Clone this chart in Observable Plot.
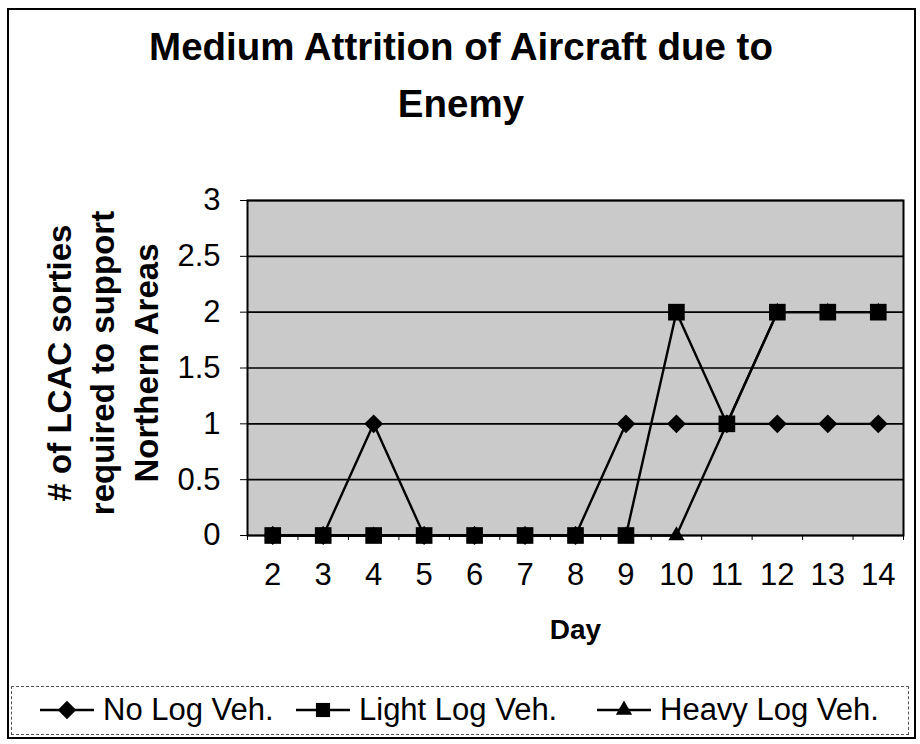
<!DOCTYPE html>
<html>
<head>
<meta charset="utf-8">
<script src="https://cdn.jsdelivr.net/npm/d3@7"></script>
<script src="https://cdn.jsdelivr.net/npm/@observablehq/plot@0.6"></script>
<style>
  html, body { margin: 0; padding: 0; background: #fff; }
  body { width: 920px; height: 744px; position: relative; overflow: hidden; font-family: "Liberation Sans", Arial, sans-serif; color: #000; }
  #frame { position: absolute; left: 7px; top: 8px; width: 909px; height: 731px; border: 2px solid #000; box-sizing: border-box; }
  #title { position: absolute; left: 0; top: 18px; width: 922px; text-align: center; font-size: 38.5px; font-weight: bold; line-height: 57px; }
  #chart { position: absolute; left: 0; top: 140px; }
  #legend { position: absolute; left: 11px; top: 686px; width: 898px; height: 49px; border: 1.5px dashed #555; box-sizing: border-box; }
  .item { position: absolute; top: 0; height: 46px; display: flex; align-items: center; font-size: 31px; white-space: nowrap; }
  .item svg { margin-right: 8px; }
</style>
</head>
<body>
<div id="frame"></div>
<div id="title">Medium Attrition of Aircraft due to<br>Enemy</div>
<div id="chart"></div>
<div id="legend"></div>
<script>
const days = [2, 3, 4, 5, 6, 7, 8, 9, 10, 11, 12, 13, 14];
const noLogVeh = [0, 0, 1, 0, 0, 0, 0, 1, 1, 1, 1, 1, 1];
const lightLogVeh = [0, 0, 0, 0, 0, 0, 0, 0, 2, 1, 2, 2, 2];
const heavyLogVeh = [0, 0, 0, 0, 0, 0, 0, 0, 0, 1, 2, 2, 2];
const seriesNames = ["No Log Veh.", "Light Log Veh.", "Heavy Log Veh."];
const yTicks = [0, 0.5, 1, 1.5, 2, 2.5, 3];
const yLabel = "# of LCAC sorties\nrequired to support\nNorthern Areas";
const xLabel = "Day";

const rows = (vals) => days.map((d, i) => ({day: d, v: vals[i]}));
const noRows = rows(noLogVeh), lightRows = rows(lightLogVeh), heavyRows = rows(heavyLogVeh);
const boundaries = [...days.map(d => d - 0.5), days[days.length - 1] + 0.5];

const diamond = {
  draw(ctx, size) {
    const h = Math.sqrt(size / 2);
    ctx.moveTo(0, -h); ctx.lineTo(h, 0); ctx.lineTo(0, h); ctx.lineTo(-h, 0); ctx.closePath();
  }
};

const lineStyle = {x: "day", y: "v", stroke: "#000", strokeWidth: 2.4};

const chart = Plot.plot({
  width: 920,
  height: 545,
  marginLeft: 247,
  marginRight: 17,
  marginTop: 60,
  marginBottom: 150,
  x: {domain: [1.5, 14.5]},
  y: {domain: [0, 3]},
  style: {fontFamily: "'Liberation Sans', Arial, sans-serif", background: "transparent", color: "#000"},
  marks: [
    Plot.frame({fill: "#cacaca", stroke: null}),
    Plot.gridY(yTicks, {stroke: "#000", strokeOpacity: 1, strokeWidth: 1.6}),
    Plot.frame({stroke: "#000", strokeWidth: 2}),
    Plot.axisY(yTicks, {tickSize: 7, tickPadding: 20, fontSize: 31, tickFormat: d => String(d), label: null}),
    Plot.axisX(boundaries, {tickSize: 5, tickFormat: () => "", label: null, strokeWidth: 1}),
    Plot.axisX(days, {tickSize: 0, tickPadding: 27, fontSize: 31, tickFormat: d => String(d), label: null}),
    Plot.text([yLabel], {frameAnchor: "left", dx: -147, dy: -5, rotate: -90, text: d => d, fontSize: 33, fontWeight: "bold", lineHeight: 1.32, textAnchor: "middle", lineAnchor: "middle"}),
    Plot.text([xLabel], {frameAnchor: "bottom", dy: 95, text: d => d, fontSize: 28, fontWeight: "bold", lineAnchor: "middle"}),
    Plot.line(heavyRows, lineStyle),
    Plot.dot(heavyRows, {x: "day", y: "v", symbol: "triangle", r: 6, fill: "#000", stroke: null}),
    Plot.line(noRows, lineStyle),
    Plot.dot(noRows, {x: "day", y: "v", symbol: diamond, r: 7.5, fill: "#000", stroke: null}),
    Plot.line(lightRows, lineStyle),
    Plot.dot(lightRows, {x: "day", y: "v", symbol: "square", r: 9.4, fill: "#000", stroke: null})
  ]
});
document.getElementById("chart").appendChild(chart);

// Legend
const legend = document.getElementById("legend");
const symbols = [diamond, d3.symbolSquare, d3.symbolTriangle];
const sizes = [170, 200, 115];
const lefts = [27, 283, 584];
seriesNames.forEach((name, i) => {
  const item = document.createElement("div");
  item.className = "item";
  item.style.left = lefts[i] + "px";
  const svg = d3.create("svg").attr("width", 56).attr("height", 26);
  svg.append("line").attr("x1", 1).attr("x2", 55).attr("y1", 13).attr("y2", 13).attr("stroke", "#000").attr("stroke-width", 2.4);
  svg.append("path").attr("transform", "translate(28,13)").attr("d", d3.symbol(symbols[i], sizes[i])()).attr("fill", "#000");
  item.appendChild(svg.node());
  const span = document.createElement("span");
  span.textContent = name;
  item.appendChild(span);
  legend.appendChild(item);
});
</script>
</body>
</html>
